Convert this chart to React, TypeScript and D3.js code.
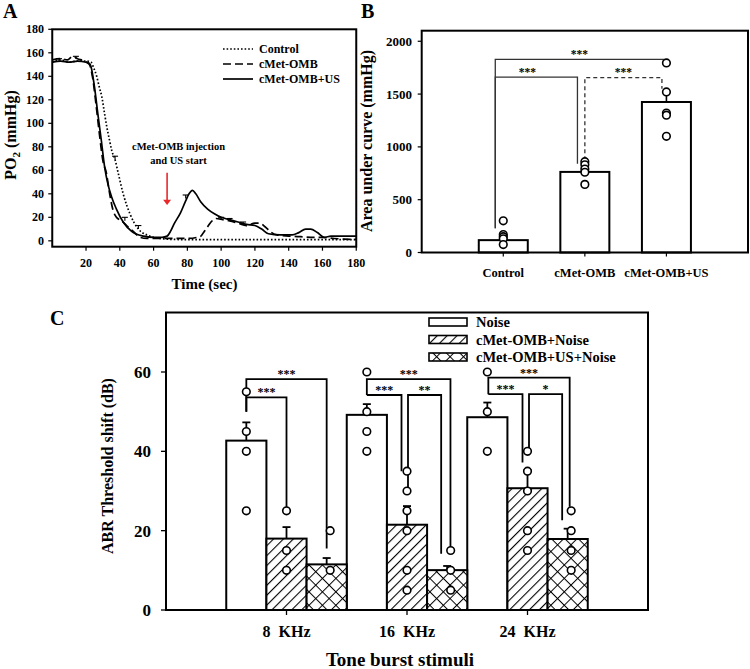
import * as d3 from "d3";

const FONT = '"Liberation Serif", "Times New Roman", serif';

// ---------- Panel A: PO2 over time ----------
const controlCurve: [number, number][] = [
  [0, 152], [5, 154], [10, 152], [15, 153], [20, 153], [23, 152], [24.3, 148], [26.3, 140],
  [28, 130], [29.3, 123], [31, 108], [32.3, 97], [34, 85], [35.2, 77], [37.2, 69], [39, 58],
  [42, 40], [46, 23], [51, 10], [56, 5], [60, 3], [64, 2], [70, 1.3], [80, 1], [100, 1],
  [120, 1], [140, 1], [160, 1], [180, 1],
];
const ombCurve: [number, number][] = [
  [0, 154], [5, 155], [9, 154], [12, 157], [15, 155], [19, 153], [22, 150], [24, 138],
  [26, 115], [28, 90], [30, 68], [32, 58], [34, 40], [36, 26], [38, 20], [41, 17], [44, 13],
  [48, 8], [52, 3], [56, 2], [60, 2], [70, 2], [80, 2], [86, 3], [88, 4], [90, 8], [92, 12],
  [94, 16], [97, 19], [101, 18], [105, 17], [110, 15], [115, 13], [120, 15], [123, 15],
  [126, 12], [129, 8], [133, 5], [140, 4], [147, 3.5], [155, 3], [160, 3], [167, 2],
  [173, 1.5], [180, 1.2],
];
const usCurve: [number, number][] = [
  [0, 152], [5, 153], [10, 152], [15, 153], [20, 152], [22, 151], [23, 148], [25, 131],
  [27, 108], [29, 86], [31, 63], [33, 48], [35, 38], [38, 27], [42, 16], [47, 8], [54, 4],
  [60, 3], [65, 3], [68, 4], [70, 8], [72, 14], [76, 24], [79, 34], [81, 40], [83, 43],
  [85, 40], [88, 33], [92, 27], [96, 23], [100, 20], [105, 18], [110, 16], [115, 14],
  [120, 13], [124, 10], [128, 6], [135, 5], [142, 5], [146, 7], [150, 10], [153, 10],
  [157, 7], [161, 3], [165, 4], [170, 4], [175, 4], [180, 4],
];
// [time, value, error]
const controlErr: [number, number, number][] = [[37.2, 69, 3], [51, 10, 3]];
const ombErr: [number, number, number][] = [[14, 155, 2], [100, 18, 2], [105, 17, 2]];
const usErr: [number, number, number][] = [[4, 153, 2], [43, 17, 3], [79, 36, 3], [113, 14, 2]];
const legendA = ["Control", "cMet-OMB", "cMet-OMB+US"];
const ticksAx = [20, 40, 60, 80, 100, 120, 140, 160, 180];
const ticksAy = [0, 20, 40, 60, 80, 100, 120, 140, 160, 180];

// ---------- Panel B: area under curve ----------
const catsB = ["Control", "cMet-OMB", "cMet-OMB+US"];
const meansB = [117, 763, 1425];
const errsB = [50, 37, 92];
const pointsB = [
  [300, 170, 150, 130, 75],
  [860, 830, 790, 760, 645],
  [1795, 1520, 1320, 1300, 1100],
];
const ticksBy = [0, 500, 1000, 1500, 2000];

// ---------- Panel C: ABR threshold shift ----------
const freqs = ["8 KHz", "16 KHz", "24 KHz"];
const groupsC = ["Noise", "cMet-OMB+Noise", "cMet-OMB+US+Noise"];
const noiseMean = [42.7, 49.2, 48.6];
const ombNoiseMean = [18.0, 21.5, 30.7];
const usNoiseMean = [11.5, 10.05, 17.9];
const noiseErr = [4.6, 2.7, 3.7];
const ombNoiseErr = [2.9, 4.7, 4.6];
const usNoiseErr = [1.6, 1.05, 2.6];
const noisePts = [[55, 45, 40, 25], [60, 50, 45, 40], [60, 50, 40]];
const ombNoisePts = [[25, 15, 10], [35, 30, 25, 20, 10, 5], [40, 35, 30, 20, 15]];
const usNoisePts = [[20, 10], [15, 10, 5], [25, 20, 15, 10]];
const ticksCy = [0, 20, 40, 60];

export default function App() {
  // ---- A scales
  const xA = d3.scaleLinear().domain([0, 180]).range([52.25, 356.25]);
  const yA = d3.scaleLinear().domain([-5, 180]).range([246.7, 29.3]);
  const lineA = d3.line<[number, number]>().x(d => xA(d[0])).y(d => yA(d[1])).curve(d3.curveMonotoneX);
  const seriesA = [
    { pts: controlCurve, err: controlErr, dash: "1.6,2" },
    { pts: ombCurve, err: ombErr, dash: "8,4" },
    { pts: usCurve, err: usErr, dash: "none" },
  ];

  // ---- B scales
  const xB = d3.scalePoint().domain(catsB).range([421.7, 748]).padding(1);
  const yB = d3.scaleLinear().domain([0, 2100]).range([252.5, 30.7]);
  const bwB = 49;
  const bx = (c: string) => xB(c)!;

  // ---- C scales
  const xC = d3.scalePoint().domain(freqs).range([166, 648]).padding(1);
  const yC = d3.scaleLinear().domain([0, 75]).range([610, 312.5]);
  const stepC = xC.step();
  const bwC = stepC / 3;
  const cx = (f: number, s: number) => xC(freqs[f])! + (s - 1) * bwC;
  const meansC = [noiseMean, ombNoiseMean, usNoiseMean];
  const errsC = [noiseErr, ombNoiseErr, usNoiseErr];
  const ptsC = [noisePts, ombNoisePts, usNoisePts];
  const fills = ["white", "url(#hatch)", "url(#cross)"];

  // significance brackets in C: [freq, leftSeries, leftDx, leftBottom, rightSeries, rightDx, rightBottom, top, label]
  const bracketsC: [number, number, number, number, number, number, number, number, string][] = [
    [0, 0, 0, 50, 2, 0, 15.5, 58.2, "***"],
    [0, 0, 0, 50, 1, 0, 25, 53.6, "***"],
    [1, 0, 0, 54.2, 2, 3.3, 15.9, 58.2, "***"],
    [1, 0, 0, 54.2, 1, -5.5, 35, 54.2, "***"],
    [1, 1, 1, 30, 2, -6, 14.2, 54.2, "**"],
    [2, 0, 1, 54.4, 2, 2, 26, 58.6, "***"],
    [2, 0, 1, 54.4, 1, -5, 37.2, 54.4, "***"],
    [2, 1, 1.5, 39, 2, -5.5, 22.6, 54.4, "*"],
  ];

  // B brackets: [leftCat, leftDx, leftBottom, rightCat, rightDx, rightBottom, top, label, dashed, labelShift]
  const bracketsB: [number, number, number, number, number, number, number, string, boolean, number][] = [
    [0, -8, 230, 2, -3, 1790, 1829, "***", false, 0],
    [0, -8, 230, 1, -7.4, 841, 1661, "***", false, -9],
    [1, 0, 873, 2, -4.5, 1551, 1655, "***", true, 0],
  ];

  const circ = (x: number, y: number, k: string) => (
    <circle key={k} cx={x} cy={y} r={3.8} fill="white" stroke="black" strokeWidth={1.6} />
  );

  return (
    <svg width={750} height={669} style={{ position: "absolute", left: 0, top: 0 }}
      fontFamily={FONT} fontWeight="bold">
      <defs>
        <pattern id="hatch" patternUnits="userSpaceOnUse" width={7} height={7} patternTransform="rotate(45)">
          <rect width={7} height={7} fill="white" />
          <line x1={0} y1={0} x2={0} y2={7} stroke="black" strokeWidth={2.2} />
        </pattern>
        <pattern id="cross" patternUnits="userSpaceOnUse" width={9.5} height={9.5} patternTransform="rotate(45)">
          <rect width={9.5} height={9.5} fill="white" />
          <line x1={0} y1={0} x2={0} y2={9.5} stroke="black" strokeWidth={2} />
          <line x1={0} y1={0} x2={9.5} y2={0} stroke="black" strokeWidth={2} />
        </pattern>
      </defs>

      {/* ================= Panel A ================= */}
      <text x={3} y={18} fontSize={20}>A</text>
      {ticksAx.map(t => (
        <g key={"ax" + t}>
          <line x1={xA(t)} x2={xA(t)} y1={yA(-5)} y2={yA(-5) + 4} stroke="black" strokeWidth={1.2} />
          <text x={xA(t)} y={267} fontSize={12} textAnchor="middle">{t}</text>
        </g>
      ))}
      {ticksAy.map(t => (
        <g key={"ay" + t}>
          <line x1={xA(0) - 4} x2={xA(0)} y1={yA(t)} y2={yA(t)} stroke="black" strokeWidth={1.2} />
          <text x={44} y={yA(t) + 4} fontSize={12} textAnchor="end">{t}</text>
        </g>
      ))}
      {seriesA.map((s, i) => (
        <g key={"sA" + i}>
          <path d={lineA(s.pts)!} fill="none" stroke="black" strokeWidth={1.7}
            strokeDasharray={s.dash} />
          {s.err.map((e, j) => (
            <g key={j} stroke="black" strokeWidth={1.1}>
              <line x1={xA(e[0])} x2={xA(e[0])} y1={yA(e[1])} y2={yA(e[1] + e[2])} />
              <line x1={xA(e[0]) - 3} x2={xA(e[0]) + 3} y1={yA(e[1] + e[2])} y2={yA(e[1] + e[2])} />
            </g>
          ))}
        </g>
      ))}
      <rect x={xA(0)} y={yA(180)} width={xA(180) - xA(0)} height={yA(-5) - yA(180)}
        fill="none" stroke="black" strokeWidth={2} />
      {legendA.map((l, i) => (
        <g key={"lA" + i}>
          <line x1={223} x2={253} y1={49 + i * 15} y2={49 + i * 15} stroke="black" strokeWidth={1.7}
            strokeDasharray={seriesA[i].dash} />
          <text x={259} y={53 + i * 15} fontSize={12}>{l}</text>
        </g>
      ))}
      <text x={178.5} y={150} fontSize={10.5} textAnchor="middle">cMet-OMB injection</text>
      <text x={178.5} y={163.5} fontSize={10.5} textAnchor="middle">and US start</text>
      <line x1={xA(68)} x2={xA(68)} y1={yA(58)} y2={yA(34)} stroke="#e8282b" strokeWidth={1.6} />
      <path d={`M${xA(68) - 4},${yA(35)} L${xA(68) + 4},${yA(35)} L${xA(68)},${yA(30.5)} Z`} fill="#e8282b" />
      <text x={204.5} y={289} fontSize={15} textAnchor="middle">Time (sec)</text>
      <text transform="translate(16,135) rotate(-90)" fontSize={16} textAnchor="middle">
        PO<tspan fontSize={11} dy={4}>2</tspan><tspan dy={-4}> (mmHg)</tspan>
      </text>

      {/* ================= Panel B ================= */}
      <text x={361} y={18} fontSize={20}>B</text>
      {ticksBy.map(t => (
        <g key={"by" + t}>
          <line x1={421.7 - 4} x2={421.7} y1={yB(t)} y2={yB(t)} stroke="black" strokeWidth={1.2} />
          <text x={412} y={yB(t) + 4.5} fontSize={13} textAnchor="end">{t}</text>
        </g>
      ))}
      {catsB.map((c, i) => (
        <g key={"bb" + i}>
          <line x1={bx(c)} x2={bx(c)} y1={yB(0)} y2={yB(0) + 4} stroke="black" strokeWidth={1.2} />
          <text x={bx(c)} y={277} fontSize={12.5} textAnchor="middle">{c}</text>
          <line x1={bx(c)} x2={bx(c)} y1={yB(meansB[i])} y2={yB(meansB[i] + errsB[i])} stroke="black" strokeWidth={1.6} />
          <line x1={bx(c) - 4} x2={bx(c) + 4} y1={yB(meansB[i] + errsB[i])} y2={yB(meansB[i] + errsB[i])} stroke="black" strokeWidth={1.6} />
          <rect x={bx(c) - bwB / 2} y={yB(meansB[i])} width={bwB} height={yB(0) - yB(meansB[i])}
            fill="white" stroke="black" strokeWidth={2} />
        </g>
      ))}
      {bracketsB.map((b, i) => {
        const x1 = bx(catsB[b[0]]) + b[1];
        const x2 = bx(catsB[b[3]]) + b[4];
        return (
          <g key={"brB" + i}>
            <path d={`M${x1},${yB(b[2])} V${yB(b[6])} H${x2} V${yB(b[5])}`} fill="none"
              stroke="#333" strokeWidth={1.3} strokeDasharray={b[8] ? "4,3" : "none"} />
            <text x={(x1 + x2) / 2 + b[9]} y={yB(b[6]) - 1.5} fontSize={11.5} textAnchor="middle">{b[7]}</text>
          </g>
        );
      })}
      {catsB.map((c, i) => pointsB[i].map((v, j) => circ(bx(c), yB(v), "pb" + i + j)))}
      <rect x={421.7} y={yB(2100)} width={748 - 421.7} height={yB(0) - yB(2100)}
        fill="none" stroke="black" strokeWidth={2} />
      <text transform="translate(372,141) rotate(-90)" fontSize={16} textAnchor="middle">
        Area under curve (mmHg)
      </text>

      {/* ================= Panel C ================= */}
      <text x={50} y={325} fontSize={20}>C</text>
      {ticksCy.map(t => (
        <g key={"cy" + t}>
          <line x1={166 - 5} x2={166} y1={yC(t)} y2={yC(t)} stroke="black" strokeWidth={1.3} />
          <text x={151} y={yC(t) + 6} fontSize={17} textAnchor="end">{t}</text>
        </g>
      ))}
      {freqs.map((f, i) => (
        <g key={"cx" + i}>
          <line x1={xC(f)!} x2={xC(f)!} y1={yC(0)} y2={yC(0) + 5} stroke="black" strokeWidth={1.3} />
          <text x={xC(f)!} y={637} fontSize={16} textAnchor="middle" wordSpacing={4}>{f}</text>
        </g>
      ))}
      {meansC.map((m, s) => freqs.map((f, i) => {
        const x = cx(i, s);
        const top = m[i] + errsC[s][i];
        return (
          <g key={"barC" + s + i}>
            <line x1={x} x2={x} y1={yC(m[i])} y2={yC(top)} stroke="black" strokeWidth={1.8} />
            <line x1={x - 4} x2={x + 4} y1={yC(top)} y2={yC(top)} stroke="black" strokeWidth={1.8} />
            <rect x={x - bwC / 2} y={yC(m[i])} width={bwC} height={yC(0) - yC(m[i])}
              fill={fills[s]} stroke="black" strokeWidth={2} />
          </g>
        );
      }))}
      {bracketsC.map((b, i) => {
        const x1 = cx(b[0], b[1]) + b[2];
        const x2 = cx(b[0], b[4]) + b[5];
        return (
          <g key={"brC" + i}>
            <path d={`M${x1},${yC(b[3])} V${yC(b[7])} H${x2} V${yC(b[6])}`} fill="none"
              stroke="black" strokeWidth={1.8} />
            <text x={(x1 + x2) / 2} y={yC(b[7]) - 1} fontSize={12} textAnchor="middle">{b[8]}</text>
          </g>
        );
      })}
      {ptsC.map((g, s) => g.map((vals, i) => vals.map((v, j) =>
        circ(cx(i, s) + (s === 2 ? 3.5 : 0), yC(v), "pc" + s + i + j))))}
      <rect x={166} y={yC(75)} width={648 - 166} height={yC(0) - yC(75)}
        fill="none" stroke="black" strokeWidth={2} />
      {groupsC.map((g, i) => (
        <g key={"lC" + i}>
          <rect x={429} y={318 + i * 17.5} width={38} height={8} fill={fills[i]} stroke="black" strokeWidth={1.6} />
          <text x={476} y={327 + i * 17.5} fontSize={14.5}>{g}</text>
        </g>
      ))}
      <text transform="translate(113,466) rotate(-90)" fontSize={16} textAnchor="middle">
        ABR Threshold shift (dB)
      </text>
      <text x={400} y={666} fontSize={19} textAnchor="middle">Tone burst stimuli</text>
    </svg>
  );
}
